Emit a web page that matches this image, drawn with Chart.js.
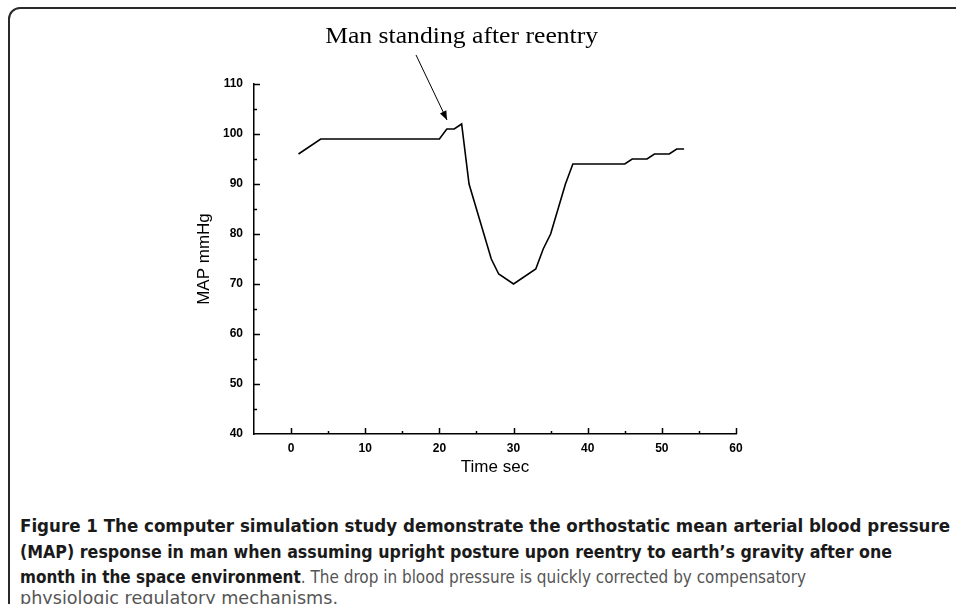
<!DOCTYPE html>
<html>
<head>
<meta charset="utf-8">
<script src="https://cdn.jsdelivr.net/npm/chart.js@4.4.1/dist/chart.umd.min.js"></script>
<style>
  html, body { margin:0; padding:0; background:#fff; width:956px; height:604px; overflow:hidden; }
  #frame { position:absolute; left:8px; top:7px; width:1000px; height:700px; border:2px solid #2a2a2a; border-radius:12px; box-sizing:border-box; }
  #wrap { position:absolute; left:0; top:0; width:956px; height:500px; }
  .cap { position:absolute; left:20px; white-space:nowrap; font-family:"DejaVu Sans Condensed","Liberation Sans Narrow","Open Sans",sans-serif; font-size:17.5px; line-height:26px; transform-origin:0 50%; color:#555; }
  .cap b { color:#1a1a1a; }
</style>
</head>
<body>
<div id="frame"></div>
<div id="wrap"><canvas id="c" width="956" height="500"></canvas></div>
<div class="cap" id="l1" style="top:513px" data-w="930"><b>Figure 1 The computer simulation study demonstrate the orthostatic mean arterial blood pressure</b></div>
<div class="cap" id="l2" style="top:539px" data-w="872"><b>(MAP) response in man when assuming upright posture upon reentry to earth’s gravity after one</b></div>
<div class="cap" id="l3" style="top:564px" data-w="786"><b>month in the space environment</b>. The drop in blood pressure is quickly corrected by compensatory</div>
<div class="cap" id="l4" style="top:585px" data-w="318">physiologic regulatory mechanisms.</div>
<script>
// ---- data ----
const timeSec = [1, 4, 20, 21, 22, 23, 24, 27, 28, 30, 33, 34, 35, 36, 37, 38, 45, 46, 48, 49, 51, 52, 53];
const mapMmHg = [96, 99, 99, 101, 101, 102, 90, 75, 72, 70, 73, 77, 80, 85, 90, 94, 94, 95, 95, 96, 96, 97, 97];
const xTickValues = [0, 10, 20, 30, 40, 50, 60];
const yTickValues = [40, 50, 60, 70, 80, 90, 100, 110];
const xTitle = 'Time sec';
const yTitle = 'MAP mmHg';
const annotationText = 'Man standing after reentry';

// fit caption lines
document.querySelectorAll('.cap').forEach(el => {
  const w = el.getBoundingClientRect().width;
  const target = parseFloat(el.dataset.w);
  el.style.transform = 'scaleX(' + (target / w) + ')';
});

const annot = { textX: 23, textY: 119.4, textWidth: 273, fromX: 16.85, fromY: 115.8, toX: 21.03, toY: 102.8 };

const customDraw = {
  id: 'customDraw',
  afterDraw(chart) {
    const ctx = chart.ctx;
    const xs = chart.scales.x, ys = chart.scales.y;
    const area = chart.chartArea;
    ctx.save();
    ctx.strokeStyle = '#000';
    ctx.lineWidth = 1.5;
    // x ticks (inward)
    for (let v = 0; v <= 60; v += 5) {
      const px = Math.round(xs.getPixelForValue(v)) + 0.5;
      const len = (v % 10 === 0) ? 6 : 3;
      ctx.beginPath(); ctx.moveTo(px, area.bottom); ctx.lineTo(px, area.bottom - len); ctx.stroke();
    }
    // y ticks (inward)
    for (let v = 45; v <= 110; v += 5) {
      const py = Math.round(ys.getPixelForValue(v)) + 0.5;
      const len = (v % 10 === 0) ? 6 : 3;
      ctx.beginPath(); ctx.moveTo(area.left, py); ctx.lineTo(area.left + len, py); ctx.stroke();
    }
    // annotation text
    ctx.fillStyle = '#000';
    ctx.font = '23px "Liberation Serif", "DejaVu Serif", serif';
    ctx.textAlign = 'center';
    ctx.textBaseline = 'middle';
    const tx = xs.getPixelForValue(annot.textX), ty = ys.getPixelForValue(annot.textY);
    const mw = ctx.measureText(annotationText).width;
    ctx.save();
    ctx.translate(tx, ty);
    ctx.scale(annot.textWidth / mw, 1);
    ctx.fillText(annotationText, 0, 0);
    ctx.restore();
    // arrow
    const x1 = xs.getPixelForValue(annot.fromX), y1 = ys.getPixelForValue(annot.fromY);
    const x2 = xs.getPixelForValue(annot.toX), y2 = ys.getPixelForValue(annot.toY);
    ctx.lineWidth = 1;
    ctx.beginPath(); ctx.moveTo(x1, y1); ctx.lineTo(x2, y2); ctx.stroke();
    const ang = Math.atan2(y2 - y1, x2 - x1);
    const hl = 9, hw = 3.5;
    ctx.beginPath();
    ctx.moveTo(x2, y2);
    ctx.lineTo(x2 - hl * Math.cos(ang) + hw * Math.sin(ang), y2 - hl * Math.sin(ang) - hw * Math.cos(ang));
    ctx.lineTo(x2 - hl * Math.cos(ang) - hw * Math.sin(ang), y2 - hl * Math.sin(ang) + hw * Math.cos(ang));
    ctx.closePath(); ctx.fill();
    ctx.restore();
  }
};

new Chart(document.getElementById('c'), {
  type: 'line',
  data: {
    datasets: [{
      data: timeSec.map((t, i) => ({ x: t, y: mapMmHg[i] })),
      borderColor: '#000',
      borderWidth: 1.6,
      pointRadius: 0,
      tension: 0,
      fill: false
    }]
  },
  options: {
    responsive: false,
    animation: false,
    devicePixelRatio: 1,
    layout: { padding: { left: 191, top: 84, right: 220, bottom: 0 } },
    plugins: { legend: { display: false }, tooltip: { enabled: false } },
    scales: {
      x: {
        type: 'linear', min: -5, max: 60,
        afterFit(s) { s.height = 66; },
        afterBuildTicks(s) { s.ticks = xTickValues.map(v => ({ value: v })); },
        grid: { display: false, drawTicks: false },
        border: { display: true, color: '#000', width: 1.5 },
        ticks: { color: '#000', padding: 7, maxRotation: 0, font: { family: '"Liberation Sans", Arial, sans-serif', size: 12, weight: 'bold' } },
        title: { display: true, text: xTitle, color: '#000', padding: { top: 0, bottom: 22 }, font: { family: '"Liberation Sans", Arial, sans-serif', size: 17 } }
      },
      y: {
        type: 'linear', min: 40, max: 110,
        afterFit(s) { s.width = 63; },
        afterBuildTicks(s) { s.ticks = yTickValues.map(v => ({ value: v })); },
        grid: { display: false, drawTicks: false },
        border: { display: true, color: '#000', width: 1.5 },
        ticks: { color: '#000', padding: 11, font: { family: '"Liberation Sans", Arial, sans-serif', size: 12, weight: 'bold' } },
        title: { display: true, text: yTitle, color: '#000', padding: { top: 3, bottom: 0 }, font: { family: '"Liberation Sans", Arial, sans-serif', size: 17 } }
      }
    }
  },
  plugins: [customDraw]
});
</script>
</body>
</html>
